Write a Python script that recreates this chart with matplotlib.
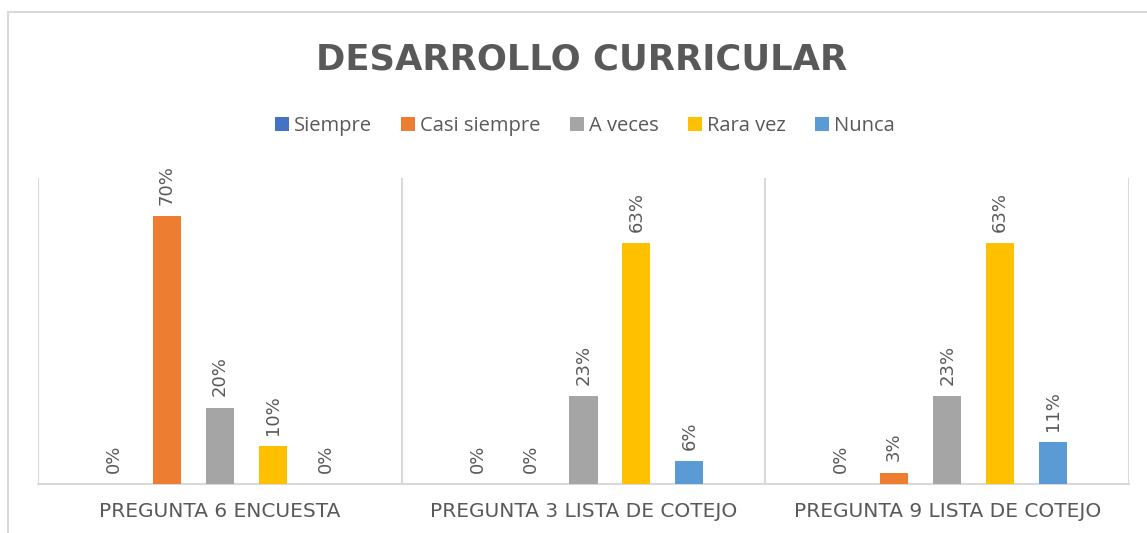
import matplotlib
matplotlib.use("Agg")
import matplotlib.pyplot as plt
import matplotlib.patches as mpatches
import numpy as np

# Data
categories = ['PREGUNTA 6 ENCUESTA', 'PREGUNTA 3 LISTA DE COTEJO', 'PREGUNTA 9 LISTA DE COTEJO']
series_names = ['Siempre', 'Casi siempre', 'A veces', 'Rara vez', 'Nunca']
siempre = [0.00, 0.00, 0.00]
casi_siempre = [0.70, 0.00, 0.03]
a_veces = [0.20, 0.23, 0.23]
rara_vez = [0.10, 0.63, 0.63]
nunca = [0.00, 0.06, 0.11]
series_values = [siempre, casi_siempre, a_veces, rara_vez, nunca]
colors = ['#4472C4', '#ED7D31', '#A5A5A5', '#FFC000', '#5B9BD5']

TEXT = '#595959'
GRID = '#D9D9D9'

fig = plt.figure(figsize=(11.47, 5.33), dpi=100)

# chart area border (only top/left visible in the crop)
W, H = 1147, 533
fig.patches.append(mpatches.Rectangle((8 / W, -0.1), 1.2, 1 - 12 / H + 0.1,
                                      transform=fig.transFigure, fill=False,
                                      edgecolor=GRID, linewidth=1.5, zorder=0))

ax = fig.add_axes([38 / W, 1 - 484 / H, (1129 - 38) / W, (484 - 178) / H])

x = np.arange(len(categories))
step = 0.1457
width = 0.077
for k, (name, vals) in enumerate(zip(series_names, series_values)):
    pos = x + (k - 2) * step
    ax.bar(pos, vals, width=width, color=colors[k], label=name, zorder=3)
    for px, v in zip(pos, vals):
        ax.annotate(f'{v * 100:.0f}%', (px, v), xytext=(0, 8), textcoords='offset points',
                    rotation=90, ha='center', va='bottom', fontsize=13,
                    color=TEXT, family='DejaVu Sans')

ax.set_xlim(-0.5, 2.5)
ax.set_ylim(0, 0.8)
ax.set_yticks([])
ax.set_xticks(x)
ax.set_xticklabels(categories, fontsize=14.5, color=TEXT, family='DejaVu Sans')
ax.tick_params(axis='x', length=0, pad=13)
for s in ['top', 'right', 'left']:
    ax.spines[s].set_visible(False)
ax.spines['bottom'].set_color(GRID)
ax.spines['bottom'].set_linewidth(1.5)
for b in [-0.5, 0.5, 1.5, 2.5]:
    ax.axvline(b, color=GRID, linewidth=1.5, zorder=1)

fig.text(582 / W, 1 - 60 / H, 'DESARROLLO CURRICULAR', ha='center', va='center',
         fontsize=25.5, fontweight='bold', color=TEXT, family='DejaVu Sans')

leg = fig.legend(loc='center', bbox_to_anchor=(585 / W, 1 - 126 / H), ncol=5, frameon=False,
                 handlelength=0.7, handleheight=0.7, handletextpad=0.25, columnspacing=1.45,
                 prop={'family': 'Open Sans', 'size': 14.5})
for t in leg.get_texts():
    t.set_color(TEXT)

fig.savefig('out.png', dpi=100)
